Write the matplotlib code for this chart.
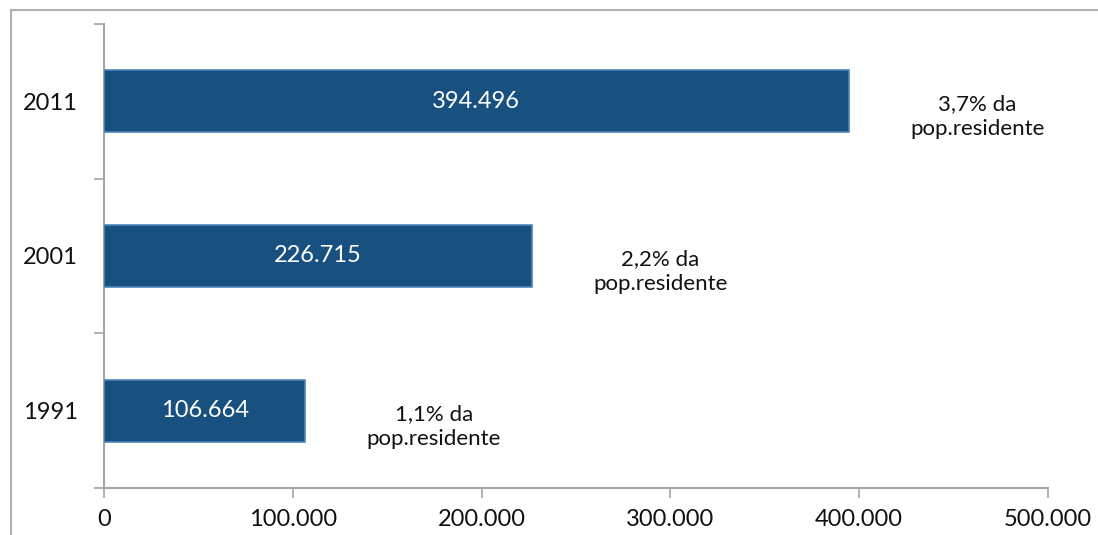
import matplotlib
matplotlib.use("Agg")
import matplotlib.pyplot as plt
from matplotlib.lines import Line2D
from matplotlib.ticker import FixedLocator

years = ["1991", "2001", "2011"]
values = [106664, 226715, 394496]
value_labels = ["106.664", "226.715", "394.496"]
share_labels = ["1,1% da\npop.residente", "2,2% da\npop.residente", "3,7% da\npop.residente"]
x_ticks = [0, 100000, 200000, 300000, 400000, 500000]
x_tick_labels = ["0", "100.000", "200.000", "300.000", "400.000", "500.000"]

plt.rcParams['font.family'] = ['Lato', 'DejaVu Sans']

W, H = 1098, 535
fig = plt.figure(figsize=(W / 100, H / 100), dpi=100)
ax = fig.add_axes([104 / W, 1 - 488 / H, (1048 - 104) / W, (488 - 24) / H])

bar_color = "#18507f"
edge_color = "#4f84bb"
ypos = list(range(len(years)))
ax.barh(ypos, values, height=0.4, color=bar_color, edgecolor=edge_color, linewidth=1.2, zorder=3)

for y, v, lab, share in zip(ypos, values, value_labels, share_labels):
    ax.text(v / 2, y, lab, color="white", ha="center", va="center", fontsize=17)
    ax.text(v + 68000, y - 0.1, share, color="#111111", ha="center", va="center",
            fontsize=16, linespacing=1.3)

ax.set_xlim(0, 500000)
ax.set_ylim(-0.5, 2.5)
ax.xaxis.set_major_locator(FixedLocator(x_ticks))
ax.set_xticklabels(x_tick_labels)
ax.set_yticks(ypos)
ax.set_yticklabels(years)
ax.yaxis.set_minor_locator(FixedLocator([-0.5, 0.5, 1.5, 2.5]))
ax.tick_params(axis="y", which="major", length=0, pad=19, labelsize=17, labelcolor="#111111")
ax.tick_params(axis="y", which="minor", length=7, width=1.2, color="#a6a6a6")
ax.tick_params(axis="x", which="major", length=7, width=1.2, color="#a6a6a6",
               labelsize=17, labelcolor="#111111", pad=8)

for s in ["top", "right"]:
    ax.spines[s].set_visible(False)
for s in ["left", "bottom"]:
    ax.spines[s].set_color("#a6a6a6")
    ax.spines[s].set_linewidth(1.5)

# outer frame lines (left and top)
fig.add_artist(Line2D([11 / W, 11 / W], [0, 1 - 10 / H], transform=fig.transFigure,
                      color="#b0b0b0", linewidth=1.5))
fig.add_artist(Line2D([11 / W, 1], [1 - 10 / H, 1 - 10 / H], transform=fig.transFigure,
                      color="#b0b0b0", linewidth=1.5))

fig.savefig("out.png", dpi=100)
